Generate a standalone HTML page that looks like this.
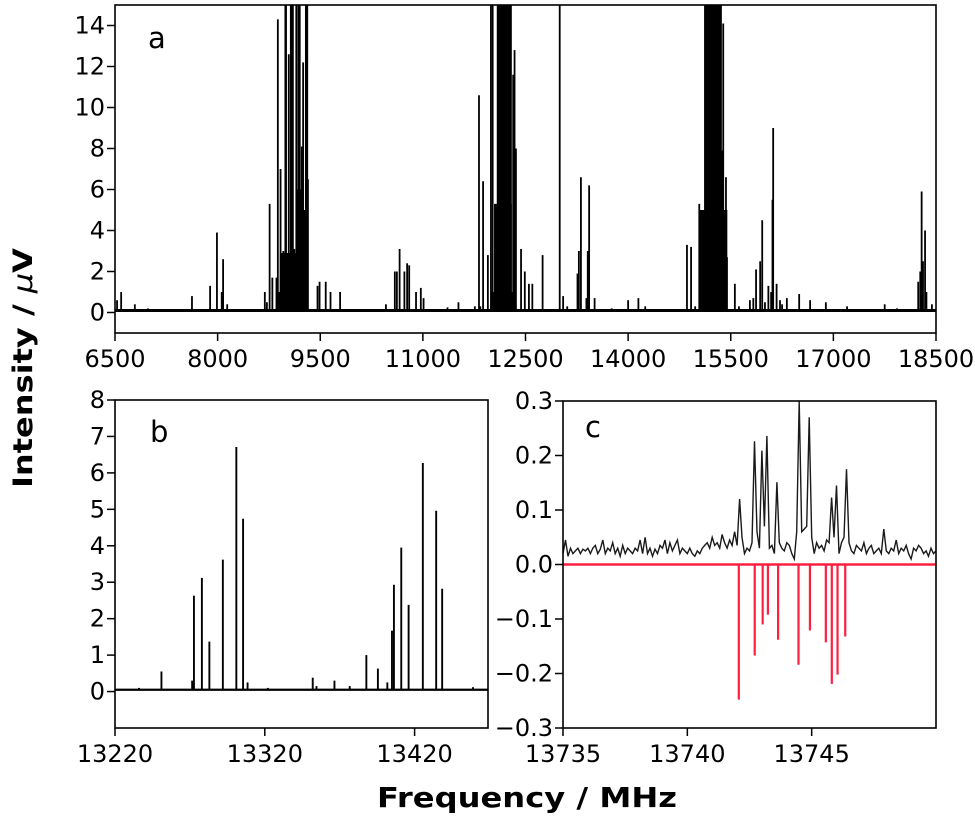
<!DOCTYPE html>
<html><head><meta charset="utf-8"><style>
html,body{margin:0;padding:0;background:#fff;}
svg{display:block;font-family:"DejaVu Sans","Liberation Sans",sans-serif;}
</style></head><body>
<svg id="chart" width="975" height="817" viewBox="0 0 975 817" xmlns="http://www.w3.org/2000/svg">
<text transform="translate(32,368) rotate(-90)" text-anchor="middle" font-size="27" font-weight="bold" textLength="240" lengthAdjust="spacingAndGlyphs">Intensity / <tspan font-style="italic" font-weight="normal">μ</tspan>V</text>
<text x="527" y="807" text-anchor="middle" font-size="28" font-weight="bold" textLength="300" lengthAdjust="spacingAndGlyphs">Frequency / MHz</text>
<g id="pa"></g>
<g id="pb"></g>
<g id="pc"></g>
</svg>
<script>
// Panel a data
const freqA=[6530,6590,6790,6980,7625,7890,7990,8060,8080,8140,8690,8720,8760,8800,8860,8880,8920,8960,8990,9000,9040,9070,9080,9100,9120,9150,9180,9200,9230,9250,9270,9290,9310,9320,9460,9490,9580,9650,9790,10100,10460,10590,10620,10660,10730,10770,10800,10900,10970,11010,11360,11520,11760,11840,11820,11880,11950,11995,12020,12320,12340,12360,12435,12490,12550,12600,12750,13000,13050,13110,13260,13280,13310,13390,13410,13430,13510,13760,14000,14150,14250,14650,14860,14920,14980,15040,15080,15370,15390,15430,15445,15560,15620,15780,15830,15870,15930,15960,16000,16050,16090,16110,16120,16170,16220,16250,16320,16500,16660,16890,17200,17300,17750,17930,18240,18270,18290,18310,18340,18360,18440];
const intA=[0.6,1.0,0.4,0.2,0.8,1.3,3.9,1.0,2.6,0.4,1.0,0.5,5.3,1.7,1.7,14.3,7.0,3.0,16,16,12.6,16,16,16,3.1,16,16,16,8.1,12.2,5.0,16,16,6.5,1.3,1.5,1.5,1.0,1.0,0.15,0.4,2.0,2.0,3.1,2.0,2.4,2.3,1.0,1.2,0.7,0.25,0.5,0.3,0.3,10.6,6.4,2.8,16,16,11.6,12.8,8.0,3.1,2.0,1.4,1.4,2.8,16,0.8,0.3,1.9,3.0,6.6,0.7,3.0,6.2,0.7,0.2,0.6,0.7,0.3,0.1,3.3,3.2,0.3,5.3,4.3,7.9,14.1,6.6,2.7,1.4,0.3,0.6,0.7,2.1,2.5,4.5,0.5,1.3,1.0,5.5,9.0,1.4,0.6,0.4,0.7,0.9,0.6,0.5,0.3,0.1,0.4,0.2,1.5,2.0,5.9,2.5,4.0,1.0,0.4];
const bandStartA=[8870,8910,9140,11990,12040,12080,15050,15110];
const bandEndA=[9320,9310,9250,12330,12300,12300,15450,15370];
const bandHeightA=[1.0,2.9,6.0,1.0,5.3,16,5.0,16];
const xTicksA=[6500,8000,9500,11000,12500,14000,15500,17000,18500];
const yTicksA=[0,2,4,6,8,10,12,14];
// Panel b data
const freqB=[13236,13251,13271.5,13272.7,13278,13283,13292,13301,13305.5,13308.5,13322,13352,13354.5,13366.5,13376.7,13387.8,13395.5,13401.8,13404.9,13406.2,13411.1,13416,13425.5,13434.4,13438.4,13459];
const intB=[0.1,0.55,0.3,2.63,3.12,1.37,3.62,6.71,4.74,0.25,0.1,0.38,0.15,0.3,0.15,1.0,0.63,0.25,1.67,2.93,3.95,2.38,6.27,4.96,2.82,0.12];
const xTicksB=[13220,13320,13420];
const yTicksB=[0,1,2,3,4,5,6,7,8];
// Panel c data
const cStart=13735, cStep=0.1;
const traceC=[.02,.045,.015,.03,.02,.025,.03,.02,.028,.025,
.03,.02,.03,.035,.02,.028,.045,.02,.03,.025,
.04,.02,.03,.015,.035,.02,.03,.025,.02,.03,
.025,.045,.02,.05,.02,.03,.015,.028,.02,.035,
.03,.045,.02,.04,.025,.035,.045,.02,.03,.025,
.02,.03,.02,.015,.025,.02,.03,.035,.04,.03,
.05,.035,.04,.03,.055,.04,.03,.045,.035,.06,
.035,.12,.05,.02,.03,.025,.04,.226,.06,.03,
.209,.07,.236,.03,.035,.02,.151,.04,.03,.025,
.04,.035,.02,.01,.06,.30,.06,.065,.07,.27,
.05,.02,.04,.03,.035,.025,.045,.04,.123,.05,
.145,.02,.04,.05,.175,.04,.025,.02,.035,.03,
.025,.04,.02,.03,.035,.02,.025,.03,.02,.065,
.025,.02,.03,.025,.045,.02,.03,.025,.035,.02,
.01,.03,.025,.035,.03,.02,.025,.015,.03,.02,.025];
const stickFreqC=[13742.07,13742.71,13743.03,13743.24,13743.65,13744.47,13744.93,13745.57,13745.81,13746.04,13746.35];
const stickIntC=[-0.248,-0.167,-0.11,-0.092,-0.138,-0.184,-0.121,-0.143,-0.219,-0.202,-0.132];
const xTicksC=[13735,13740,13745];
const yTicksC=[-0.3,-0.2,-0.1,0.0,0.1,0.2,0.3];
const yTickLabelsC=["\u22120.3","\u22120.2","\u22120.1","0.0","0.1","0.2","0.3"];

const NS="http://www.w3.org/2000/svg";
function mk(parent,tag,attrs){const e=document.createElementNS(NS,tag);for(const k in attrs)e.setAttribute(k,attrs[k]);parent.appendChild(e);return e;}
function scale(d0,d1,r0,r1){return v=>r0+(v-d0)*(r1-r0)/(d1-d0);}

function axes(g,L,R,T,B,xs,ys,xt,yt,ylab,prefix){
  const clip=mk(g,'clipPath',{id:prefix+'clip'});
  mk(clip,'rect',{x:L,y:T,width:R-L,height:B-T});
  xt.forEach((v,i)=>{
    const x=xs(v);
    const t=mk(g,'line',{x1:x,x2:x,y1:B,y2:B+8,stroke:'#000','stroke-width':1.5});
    
    
    const tx=mk(g,'text',{x:x,y:B+34,'text-anchor':'middle','font-size':24});
    
    
    tx.textContent=String(v);
  });
  yt.forEach((v,i)=>{
    const y=ys(v);
    const t=mk(g,'line',{x1:L-8,x2:L,y1:y,y2:y,stroke:'#000','stroke-width':1.5});
    
    
    const tx=mk(g,'text',{x:L-10,y:y+8,'text-anchor':'end','font-size':24});
    
    
    tx.textContent=ylab?ylab[i]:String(v);
  });
}
function frame(g,L,R,T,B,prefix){
  const f=mk(g,'rect',{x:L,y:T,width:R-L,height:B-T,fill:'none',stroke:'#000','stroke-width':1.6});
  
  
}

// Panel a
(function(){
  const g=document.getElementById('pa');
  const L=115,R=936,T=5,B=333;
  const xs=scale(6500,18500,L,R), ys=scale(-1,15,B,T);
  axes(g,L,R,T,B,xs,ys,xTicksA,yTicksA,null,'a-');
  const pg=mk(g,'g',{'clip-path':'url(#a-clip)'});
  const base=mk(pg,'line',{x1:L,x2:R,y1:ys(0.1),y2:ys(0.1),stroke:'#000','stroke-width':3});
  
  
  bandStartA.forEach((s,i)=>{
    const r=mk(pg,'rect',{x:xs(s),y:ys(bandHeightA[i]),width:xs(bandEndA[i])-xs(s),height:ys(0.1)-ys(bandHeightA[i]),fill:'#000'});
    
    
  });
  freqA.forEach((f,i)=>{
    const l=mk(pg,'line',{x1:xs(f),x2:xs(f),y1:ys(0.1),y2:ys(intA[i]),stroke:'#000','stroke-width':1.8});
    
    
  });
  frame(g,L,R,T,B,'a-');
  const lab=mk(g,'text',{x:148,y:48,'font-size':29});
  
  
  lab.textContent='a';
})();

// Panel b
(function(){
  const g=document.getElementById('pb');
  const L=115,R=488,T=400,B=728;
  const xs=scale(13220,13469,L,R), ys=scale(-1,8,B,T);
  axes(g,L,R,T,B,xs,ys,xTicksB,yTicksB,null,'b-');
  const pg=mk(g,'g',{'clip-path':'url(#b-clip)'});
  const base=mk(pg,'line',{x1:L,x2:R,y1:ys(0.05),y2:ys(0.05),stroke:'#000','stroke-width':2.2});
  
  
  freqB.forEach((f,i)=>{
    const l=mk(pg,'line',{x1:xs(f),x2:xs(f),y1:ys(0.05),y2:ys(intB[i]),stroke:'#000','stroke-width':1.9});
    
    
  });
  frame(g,L,R,T,B,'b-');
  const lab=mk(g,'text',{x:150,y:442,'font-size':29});
  
  
  lab.textContent='b';
})();

// Panel c
(function(){
  const g=document.getElementById('pc');
  const L=563,R=936,T=401,B=728;
  const xs=scale(13735,13750,L,R), ys=scale(-0.3,0.3,B,T);
  axes(g,L,R,T,B,xs,ys,xTicksC,yTicksC,yTickLabelsC,'c-');
  const pg=mk(g,'g',{'clip-path':'url(#c-clip)'});
  const pts=traceC.map((v,i)=>xs(cStart+i*cStep).toFixed(1)+','+ys(v).toFixed(1)).join(' ');
  const tr=mk(pg,'polyline',{points:pts,fill:'none',stroke:'#1a1a1a','stroke-width':1.4});
  
  
  const zl=mk(pg,'line',{x1:L,x2:R,y1:ys(0),y2:ys(0),stroke:'#ff2040','stroke-width':2.5});
  
  
  stickFreqC.forEach((f,i)=>{
    const l=mk(pg,'line',{x1:xs(f),x2:xs(f),y1:ys(0),y2:ys(stickIntC[i]),stroke:'#ff2040','stroke-width':2.2});
    
    
  });
  frame(g,L,R,T,B,'c-');
  const lab=mk(g,'text',{x:585,y:437,'font-size':29});
  
  
  lab.textContent='c';
})();
</script>
</body></html>
